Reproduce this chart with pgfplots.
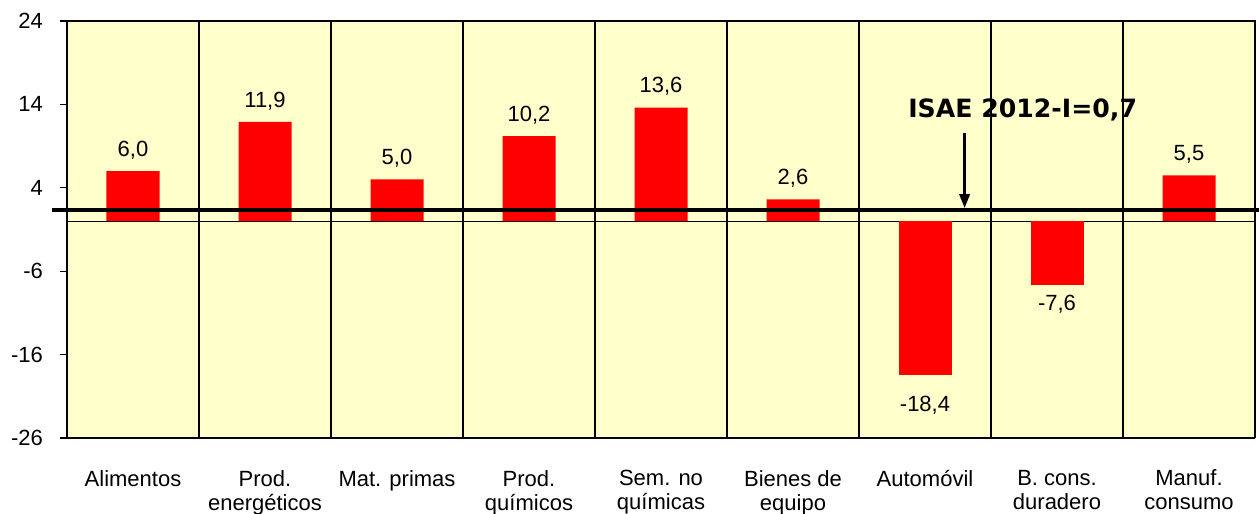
\documentclass[border=0pt]{standalone}
\usepackage{pgfplots}
\pgfplotsset{compat=1.18}
\usetikzlibrary{arrows.meta}
\usepackage{fontspec}
\setmainfont{Liberation Sans}
\newfontfamily\verd{DejaVu Sans}
\definecolor{bgyel}{RGB}{255,255,204}
\definecolor{barred}{RGB}{255,0,0}
\begin{document}
\begin{tikzpicture}
\begin{axis}[
  name=ax,
  scale only axis,
  width=594pt, height=208.5pt,
  xmin=-0.5, xmax=8.5,
  ymin=-26, ymax=24,
  ytick={-26,-16,-6,4,14,24},
  yticklabels={-26,-16,-6,4,14,24},
  xtick={0,1,2,3,4,5,6,7,8},
  xticklabels={Alimentos,Prod.\\energéticos,Mat. primas,Prod.\\químicos,Sem. no\\químicas,Bienes de\\equipo,Automóvil,B. cons.\\duradero,Manuf.\\consumo},
  xticklabel style={align=center, font=\fontsize{11}{12}\selectfont, yshift=-9pt},
  yticklabel style={font=\fontsize{11}{12}\selectfont, xshift=-5pt},
  x tick style={draw=none},
  y tick style={black, line width=0.6pt},
  tick align=outside,
  major tick length=3.5pt,
  minor xtick={0.5,1.5,...,7.5},
  xminorgrids,
  minor x tick style={draw=none},
  minor grid style={black, line width=0.6pt},
  axis background/.style={fill=bgyel},
  axis line style={black, line width=0.6pt},
  axis x line*=bottom,
  axis y line*=left,
  clip=false,
  ybar, bar width=26.5pt, bar shift=0pt,
  point meta=explicit symbolic,
]
\draw[black, line width=0.6pt] (rel axis cs:0,1) -- (rel axis cs:1,1) -- (rel axis cs:1,0);
\draw[black, line width=0.5pt] (axis cs:-0.5,0) -- (axis cs:8.5,0);
\addplot[fill=barred, draw=none, nodes near coords, every node near coord/.append style={font=\fontsize{11}{12}\selectfont, anchor=south, yshift=2.5pt, black}] table[meta=label] {
x y label
0 6.0 6,0
1 11.9 11,9
2 5.0 5,0
3 10.2 10,2
4 13.6 13,6
5 2.6 2,6
8 5.5 5,5
};
\addplot[fill=barred, draw=none, nodes near coords, every node near coord/.append style={font=\fontsize{11}{12}\selectfont, anchor=north, yshift=-7pt, black}] table[meta=label] {
x y label
6 -18.4 -18,4
};
\addplot[fill=barred, draw=none, nodes near coords, every node near coord/.append style={font=\fontsize{11}{12}\selectfont, anchor=north, yshift=-2pt, black}] table[meta=label] {
x y label
7 -7.6 -7,6
};
\draw[black, line width=2pt] ([xshift=-7.5pt]axis cs:-0.5,1.3) -- ([xshift=2pt]axis cs:8.5,1.3);
\draw[black, line width=1.5pt, -{Triangle[width=5pt,length=7pt]}] (axis cs:6.30,10.6) -- (axis cs:6.30,1.55);
\node[font=\verd\bfseries\fontsize{12.6}{14}\selectfont, inner sep=0pt] at (axis cs:6.74,13.3) {ISAE 2012-I=0,7};
\end{axis}
\pgfresetboundingbox
\path[use as bounding box] ([xshift=-33.5pt,yshift=-37.5pt]ax.south west) rectangle ([xshift=2pt,yshift=10.5pt]ax.north east);
\end{tikzpicture}
\end{document}
